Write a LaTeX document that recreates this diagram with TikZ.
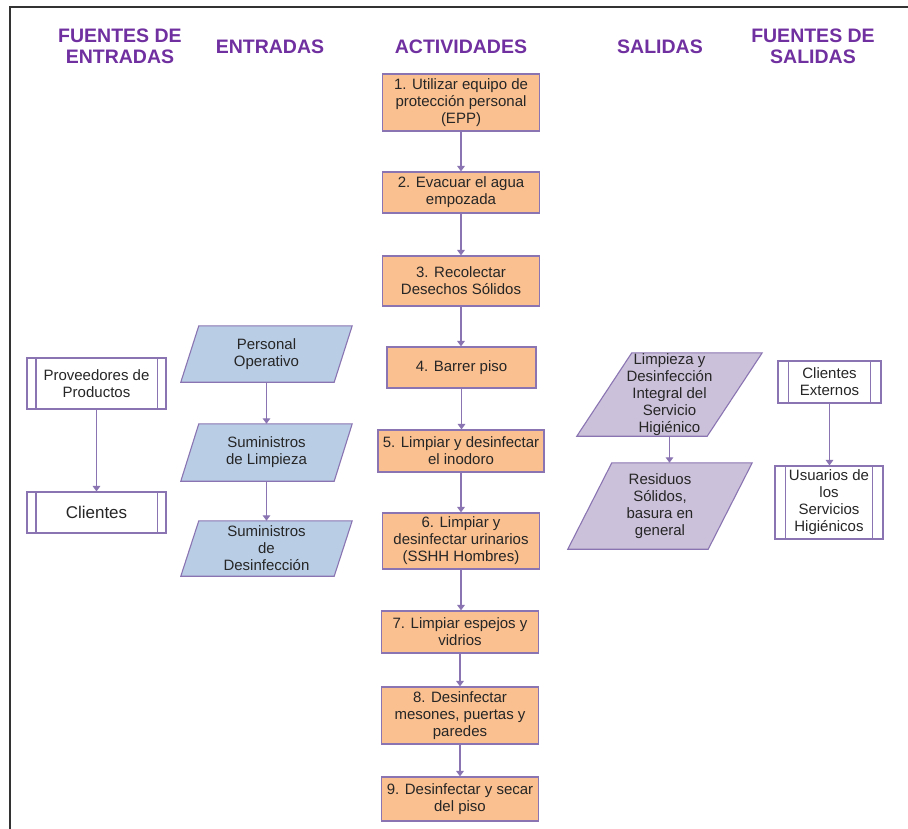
\documentclass[tikz,border=0pt]{standalone}
\usepackage{fontspec}
\setmainfont{Liberation Sans}
\usetikzlibrary{arrows.meta,backgrounds}
\definecolor{hdr}{RGB}{112,48,160}
\definecolor{bord}{RGB}{138,117,178}
\definecolor{orangef}{RGB}{250,192,144}
\definecolor{bluef}{RGB}{185,205,229}
\definecolor{lavf}{RGB}{204,193,218}
\definecolor{txt}{RGB}{38,38,38}
\begin{document}
\begin{tikzpicture}[x=1pt,y=-1pt,
  body/.style={font=\fontsize{15}{17}\selectfont, text=txt, align=center, inner sep=0pt},
  act/.style={body, draw=bord, fill=orangef, line width=1.1pt, minimum width=157pt},
  proc/.style={body, draw=bord, fill=white, line width=1.1pt},
  procl/.style={draw=bord, line width=1.1pt},
  parabox/.style={body},
  paraline/.style={draw=bord, line width=1.1pt},
  arr/.style={draw=bord, line width=1.4pt, -{Triangle[width=7.5pt,length=5.5pt]}},
  hdrtext/.style={font=\fontsize{19.5}{21}\selectfont\bfseries, text=hdr, align=center, inner sep=0pt}
]
\useasboundingbox (0,0) rectangle (908,829);
% frame
\draw[black!80, line width=1.2pt] (10,829) -- (10,7) -- (908,7);

% headers
\node[hdrtext] (h1) at (120,46) {FUENTES DE\\ENTRADAS};
\node[hdrtext] (h2) at (270,47) {ENTRADAS};
\node[hdrtext] (h3) at (461,47) {ACTIVIDADES};
\node[hdrtext] (h4) at (660,47) {SALIDAS};
\node[hdrtext] (h5) at (813,46) {FUENTES DE\\SALIDAS};

% activities
\node[act, minimum height=57pt] (a1) at (461,102.5) {1. Utilizar equipo de\\protección personal\\(EPP)};
\node[act, minimum height=41pt] (a2) at (461,192.5) {2. Evacuar el agua\\empozada};
\node[act, minimum height=50pt] (a3) at (461,281) {3. Recolectar\\Desechos Sólidos};
\node[act, minimum height=41pt, minimum width=149pt] (a4) at (461.5,367.5) {4. Barrer piso};
\node[act, minimum height=42pt, minimum width=166pt] (a5) at (461,451) {5. Limpiar y desinfectar\\el inodoro};
\node[act, minimum height=56pt] (a6) at (461,541) {6. Limpiar y\\desinfectar urinarios\\(SSHH Hombres)};
\node[act, minimum height=42pt] (a7) at (460,632) {7. Limpiar espejos y\\vidrios};
\node[act, minimum height=57pt] (a8) at (460,715.5) {8. Desinfectar\\mesones, puertas y\\paredes};
\node[act, minimum height=44pt] (a9) at (460,799) {9. Desinfectar y secar\\del piso};

\draw[arr] (a1.south) -- (a1.south |- a2.north);
\draw[arr] (a2.south) -- (a2.south |- a3.north);
\draw[arr] (a3.south) -- (a3.south |- a4.north);
\draw[arr] (a4.south) -- (a4.south |- a5.north);
\draw[arr] (a5.south) -- (a5.south |- a6.north);
\draw[arr] (a6.south) -- (a6.south |- a7.north);
\draw[arr] (a7.south) -- (a7.south |- a8.north);
\draw[arr] (a8.south) -- (a8.south |- a9.north);

% fuentes de entradas
\node[proc, minimum width=139pt, minimum height=51pt] (prov) at (96.5,383.5) {Proveedores de\\Productos};
\node[proc, minimum width=139pt, minimum height=41pt, font=\fontsize{17}{19}\selectfont] (cli) at (96.5,512.5) {Clientes};
\draw[arr] (prov.south) -- (prov.south |- cli.north);

% entradas
\node[parabox, minimum width=153pt, minimum height=56pt] (pers) at (266.5,354) {Personal\\Operativo};
\node[parabox, minimum width=153pt, minimum height=57pt] (suml) at (266.5,452.5) {Suministros\\de Limpieza};
\node[parabox, minimum width=153pt, minimum height=55pt] (sumd) at (266.5,548.5) {Suministros\\de\\Desinfección};
\draw[arr] (pers.south) -- (pers.south |- suml.north);
\draw[arr] (suml.south) -- (suml.south |- sumd.north);

% salidas
\node[parabox, minimum width=130pt, minimum height=83pt] (lim) at (669.5,394.5) {Limpieza y\\Desinfección\\Integral del\\Servicio\\Higiénico};
\node[parabox, minimum width=140pt, minimum height=86pt] (res) at (660,506) {Residuos\\Sólidos,\\basura en\\general};
\draw[arr] (lim.south) -- (lim.south |- res.north);

% fuentes de salidas
\node[proc, minimum width=103pt, minimum height=42pt] (cext) at (829.5,382) {Clientes\\Externos};
\node[proc, minimum width=108pt, minimum height=73pt] (usu) at (829,502.5) {Usuarios de\\los\\Servicios\\Higiénicos};
\draw[arr] (cext.south) -- (cext.south |- usu.north);

% inner lines of predefined-process boxes
\foreach \n/\o in {prov/9.5, cli/9.5, cext/11, usu/11} {
  \draw[procl] ([xshift=\o pt]\n.north west) -- ([xshift=\o pt]\n.south west);
  \draw[procl] ([xshift=-\o pt]\n.north east) -- ([xshift=-\o pt]\n.south east);
}

% parallelograms
\begin{scope}[on background layer]
\fill[white] (0,0) rectangle (908,829);
\foreach \n/\s/\c in {pers/9/bluef, suml/9/bluef, sumd/9/bluef, lim/27.5/lavf, res/22/lavf} {
  \draw[paraline, fill=\c] ([xshift=-\s pt]\n.south west) -- ([xshift=-\s pt]\n.south east)
     -- ([xshift=\s pt]\n.north east) -- ([xshift=\s pt]\n.north west) -- cycle;
}
\end{scope}
\end{tikzpicture}
\end{document}
